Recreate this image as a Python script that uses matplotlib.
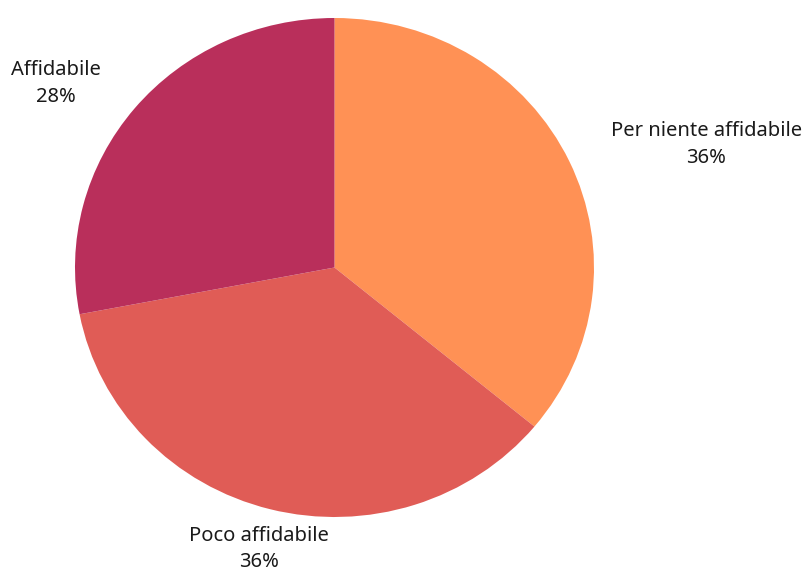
import matplotlib.pyplot as plt

plt.rcParams["font.family"] = ["Noto Sans", "DejaVu Sans"]

# --- Data ---
categories = ["Per niente affidabile", "Poco affidabile", "Affidabile"]
shares = [36, 36, 28]
colors = ["#FF9155", "#E05C56", "#B92F5B"]

# label centres in data units (pie radius = 1)
label_pos = [(1.432, 0.493), (-0.291, -1.128), (-1.073, 0.737)]

fig = plt.figure(figsize=(8.04, 5.72), dpi=100)
ax = fig.add_axes([75 / 804, 1 - 517 / 572, 519 / 804, 499 / 572])

wedges, texts = ax.pie(
    shares,
    labels=[f"{c}\n{v}%" for c, v in zip(categories, shares)],
    colors=colors,
    startangle=90,
    counterclock=False,
    radius=1,
)

for t, (x, y) in zip(texts, label_pos):
    t.set_position((x, y))
    t.set_ha("center")
    t.set_va("center")
    t.set_fontsize(14.5)
    t.set_color("#1a1a1a")
    t.set_linespacing(1.43)
    t.set_clip_on(False)

ax.set_aspect("auto")
ax.set_xlim(-1, 1)
ax.set_ylim(-1, 1)

plt.savefig("out.png", dpi=100)
